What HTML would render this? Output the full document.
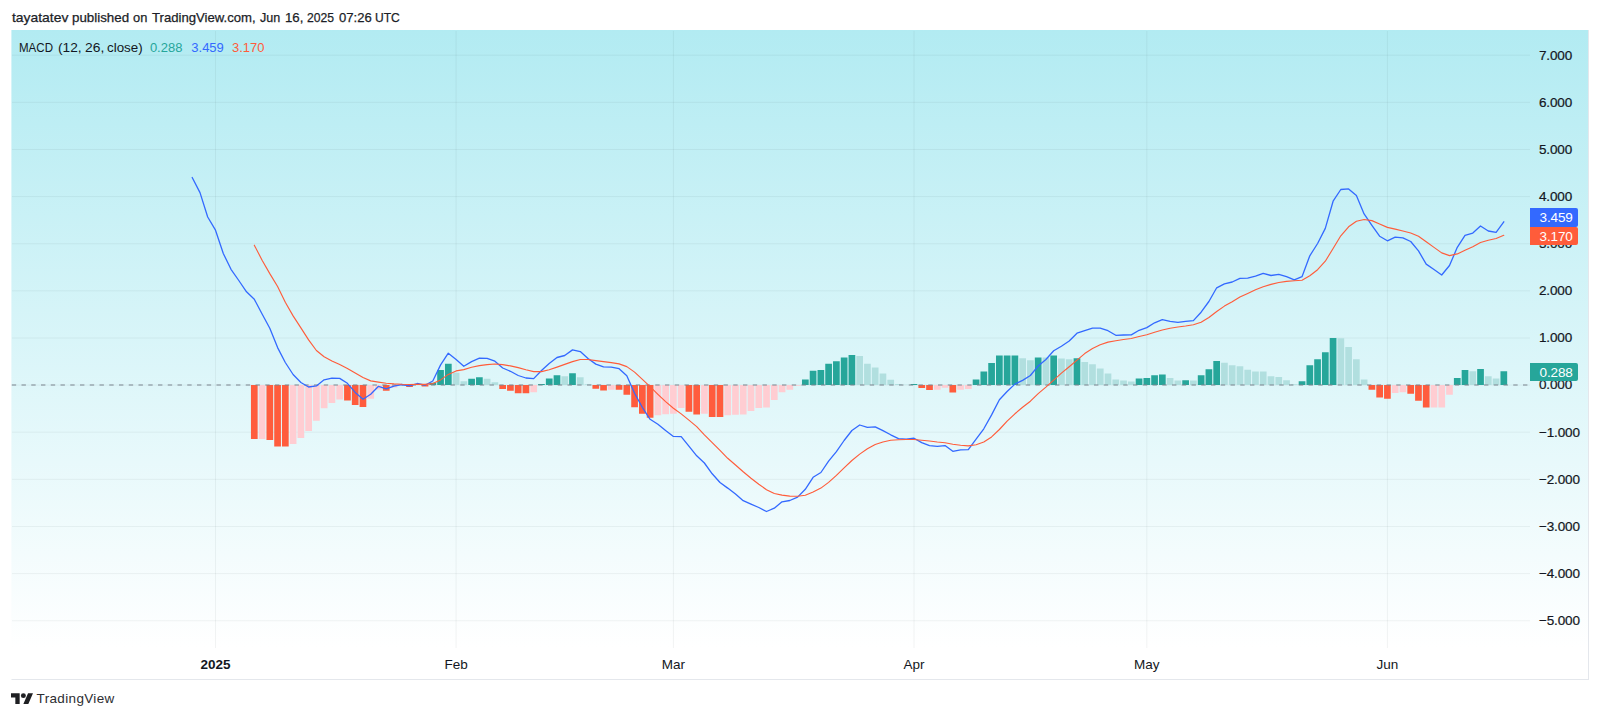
<!DOCTYPE html>
<html lang="en"><head><meta charset="utf-8"><title>MACD chart</title>
<style>
html,body{margin:0;padding:0;}
body{width:1600px;height:718px;background:#fff;position:relative;overflow:hidden;font-family:"Liberation Sans",Arial,sans-serif;color:#131722;}
.hdr{position:absolute;left:0;top:8.6px;font-size:13px;line-height:18px;white-space:nowrap;color:#1b1e27;-webkit-text-stroke:0.25px #1b1e27;}
.hdr span,.legend span{position:absolute;top:0;transform-origin:0 0;white-space:nowrap;}
.chart{position:absolute;left:11px;top:30px;width:1578px;height:650px;box-sizing:border-box;border:1px solid #e4e7ec;border-top:0 none;border-left:1px solid rgba(255,255,255,0.4);background:linear-gradient(to bottom,#b2ebf2 0px,#ffffff 618px,#ffffff 100%);}
.plot{position:absolute;left:0;top:0;}
.legend{position:absolute;left:0;top:38.5px;font-size:13px;line-height:18px;white-space:nowrap;}
.legend span{position:absolute;top:0;}
.pl{position:absolute;left:1539px;font-size:13.5px;letter-spacing:-0.15px;line-height:16px;height:16px;white-space:nowrap;color:#131722;-webkit-text-stroke:0.2px #131722;}
.tl{position:absolute;top:655.5px;width:60px;text-align:center;font-size:13.5px;line-height:18px;white-space:nowrap;color:#131722;}
.tl.b{font-weight:bold;}
.tag{position:absolute;left:1530px;width:48px;height:18.6px;border-radius:0 2px 2px 0;color:#fff;font-size:13.5px;letter-spacing:-0.15px;line-height:20.4px;text-indent:9.6px;overflow:hidden;white-space:nowrap;}
.foot{position:absolute;left:36.6px;top:689.5px;font-size:13.5px;letter-spacing:0.34px;line-height:18px;color:#2c2d31;white-space:nowrap;}
.logo{position:absolute;left:11.4px;top:690.5px;}
</style></head><body>
<div class="hdr"><span style="left:11.63px;transform:scaleX(1.0679)">tayatatev</span> <span style="left:71.93px;transform:scaleX(1.0267)">published</span> <span style="left:133.01px;transform:scaleX(0.9887)">on</span> <span style="left:152.05px;transform:scaleX(1.0094)">TradingView.com,</span> <span style="left:260.36px;transform:scaleX(0.965)">Jun</span> <span style="left:284.68px;transform:scaleX(1.0188)">16,</span> <span style="left:307.33px;transform:scaleX(0.9357)">2025</span> <span style="left:338.7px;transform:scaleX(1.0063)">07:26</span> <span style="left:375.47px;transform:scaleX(0.928)">UTC</span></div>
<div class="chart"></div>
<svg class="plot" width="1600" height="718" viewBox="0 0 1600 718"><path d="M12 620.75H1530M12 573.62H1530M12 526.49H1530M12 479.36H1530M12 432.23H1530M12 385.10H1530M12 337.97H1530M12 290.84H1530M12 243.71H1530M12 196.58H1530M12 149.45H1530M12 102.32H1530M12 55.19H1530M215.50 31V648M456.09 31V648M673.40 31V648M913.99 31V648M1146.82 31V648M1387.41 31V648" stroke="rgba(42,46,57,0.06)" stroke-width="1" fill="none"/><path d="M250.95 385.00h6.7v54.10h-6.7zM266.47 385.00h6.7v55.00h-6.7zM274.23 385.00h6.7v61.40h-6.7zM281.99 385.00h6.7v61.45h-6.7zM344.08 385.00h6.7v15.50h-6.7zM351.84 385.00h6.7v20.00h-6.7zM359.60 385.00h6.7v21.90h-6.7zM382.89 385.00h6.7v5.80h-6.7zM406.17 385.00h6.7v2.00h-6.7zM421.69 385.00h6.7v1.40h-6.7zM499.30 385.00h6.7v4.00h-6.7zM507.06 385.00h6.7v5.80h-6.7zM514.82 385.00h6.7v8.30h-6.7zM522.58 385.00h6.7v8.35h-6.7zM592.43 385.00h6.7v3.80h-6.7zM600.20 385.00h6.7v5.60h-6.7zM615.72 385.00h6.7v4.85h-6.7zM623.48 385.00h6.7v9.75h-6.7zM631.24 385.00h6.7v22.30h-6.7zM639.00 385.00h6.7v28.80h-6.7zM646.76 385.00h6.7v32.80h-6.7zM685.57 385.00h6.7v26.80h-6.7zM693.33 385.00h6.7v29.50h-6.7zM708.85 385.00h6.7v32.00h-6.7zM716.61 385.00h6.7v32.05h-6.7zM918.40 385.00h6.7v2.90h-6.7zM926.16 385.00h6.7v5.00h-6.7zM949.44 385.00h6.7v7.50h-6.7zM1368.53 385.00h6.7v4.80h-6.7zM1376.30 385.00h6.7v12.60h-6.7zM1384.06 385.00h6.7v13.70h-6.7zM1407.34 385.00h6.7v8.80h-6.7zM1415.10 385.00h6.7v15.80h-6.7zM1422.86 385.00h6.7v22.50h-6.7z" fill="#FF5C3D"/><path d="M258.71 385.00h6.7v54.00h-6.7zM289.75 385.00h6.7v58.90h-6.7zM297.52 385.00h6.7v53.10h-6.7zM305.28 385.00h6.7v46.10h-6.7zM313.04 385.00h6.7v35.80h-6.7zM320.80 385.00h6.7v23.30h-6.7zM328.56 385.00h6.7v18.10h-6.7zM336.32 385.00h6.7v14.50h-6.7zM367.37 385.00h6.7v13.70h-6.7zM375.13 385.00h6.7v4.50h-6.7zM390.65 385.00h6.7v2.50h-6.7zM398.41 385.00h6.7v0.40h-6.7zM530.35 385.00h6.7v7.30h-6.7zM607.96 385.00h6.7v4.80h-6.7zM654.52 385.00h6.7v30.30h-6.7zM662.28 385.00h6.7v29.30h-6.7zM670.04 385.00h6.7v28.80h-6.7zM677.80 385.00h6.7v23.10h-6.7zM701.09 385.00h6.7v28.80h-6.7zM724.37 385.00h6.7v30.30h-6.7zM732.13 385.00h6.7v29.80h-6.7zM739.89 385.00h6.7v29.60h-6.7zM747.65 385.00h6.7v26.00h-6.7zM755.42 385.00h6.7v23.10h-6.7zM763.18 385.00h6.7v22.50h-6.7zM770.94 385.00h6.7v15.10h-6.7zM778.70 385.00h6.7v7.30h-6.7zM786.46 385.00h6.7v4.80h-6.7zM794.22 385.00h6.7v0.80h-6.7zM933.92 385.00h6.7v4.80h-6.7zM941.68 385.00h6.7v2.80h-6.7zM957.20 385.00h6.7v4.80h-6.7zM964.96 385.00h6.7v4.00h-6.7zM1391.82 385.00h6.7v8.00h-6.7zM1399.58 385.00h6.7v7.30h-6.7zM1430.62 385.00h6.7v22.45h-6.7zM1438.38 385.00h6.7v22.40h-6.7zM1446.14 385.00h6.7v9.80h-6.7z" fill="#FFCDD2"/><path d="M429.45 382.80h6.7v2.20h-6.7zM437.21 370.00h6.7v15.00h-6.7zM444.98 363.70h6.7v21.30h-6.7zM468.26 378.80h6.7v6.20h-6.7zM476.02 377.30h6.7v7.70h-6.7zM538.11 383.90h6.7v1.10h-6.7zM545.87 378.50h6.7v6.50h-6.7zM553.63 375.30h6.7v9.70h-6.7zM569.15 373.30h6.7v11.70h-6.7zM801.98 379.50h6.7v5.50h-6.7zM809.74 370.80h6.7v14.20h-6.7zM817.50 370.00h6.7v15.00h-6.7zM825.26 363.70h6.7v21.30h-6.7zM833.02 361.20h6.7v23.80h-6.7zM840.79 357.40h6.7v27.60h-6.7zM848.55 355.00h6.7v30.00h-6.7zM910.64 384.00h6.7v1.00h-6.7zM972.72 379.50h6.7v5.50h-6.7zM980.48 371.50h6.7v13.50h-6.7zM988.25 363.00h6.7v22.00h-6.7zM996.01 355.50h6.7v29.50h-6.7zM1003.77 355.45h6.7v29.55h-6.7zM1011.53 355.40h6.7v29.60h-6.7zM1034.81 357.40h6.7v27.60h-6.7zM1050.33 355.50h6.7v29.50h-6.7zM1073.62 358.30h6.7v26.70h-6.7zM1135.70 378.60h6.7v6.40h-6.7zM1143.47 377.90h6.7v7.10h-6.7zM1151.23 375.20h6.7v9.80h-6.7zM1158.99 374.40h6.7v10.60h-6.7zM1182.27 380.35h6.7v4.65h-6.7zM1197.79 375.20h6.7v9.80h-6.7zM1205.55 369.20h6.7v15.80h-6.7zM1213.31 361.00h6.7v24.00h-6.7zM1298.69 381.30h6.7v3.70h-6.7zM1306.45 365.30h6.7v19.70h-6.7zM1314.21 359.20h6.7v25.80h-6.7zM1321.97 352.20h6.7v32.80h-6.7zM1329.73 338.00h6.7v47.00h-6.7zM1453.90 378.00h6.7v7.00h-6.7zM1461.67 370.00h6.7v15.00h-6.7zM1477.19 369.00h6.7v16.00h-6.7zM1500.47 371.30h6.7v13.70h-6.7z" fill="#26A69A"/><path d="M413.93 384.70h6.7v0.40h-6.7zM452.74 372.80h6.7v12.20h-6.7zM460.50 381.30h6.7v3.70h-6.7zM483.78 378.80h6.7v6.20h-6.7zM491.54 382.30h6.7v2.70h-6.7zM561.39 376.30h6.7v8.70h-6.7zM576.91 377.30h6.7v7.70h-6.7zM584.67 384.30h6.7v0.70h-6.7zM856.31 356.00h6.7v29.00h-6.7zM864.07 363.70h6.7v21.30h-6.7zM871.83 367.50h6.7v17.50h-6.7zM879.59 373.50h6.7v11.50h-6.7zM887.35 379.80h6.7v5.20h-6.7zM895.11 384.00h6.7v1.00h-6.7zM902.87 384.70h6.7v0.40h-6.7zM1019.29 358.20h6.7v26.80h-6.7zM1027.05 360.20h6.7v24.80h-6.7zM1042.57 357.50h6.7v27.50h-6.7zM1058.09 358.50h6.7v26.50h-6.7zM1065.86 359.20h6.7v25.80h-6.7zM1081.38 362.10h6.7v22.90h-6.7zM1089.14 364.30h6.7v20.70h-6.7zM1096.90 368.40h6.7v16.60h-6.7zM1104.66 373.40h6.7v11.60h-6.7zM1112.42 379.60h6.7v5.40h-6.7zM1120.18 380.40h6.7v4.60h-6.7zM1127.94 381.40h6.7v3.60h-6.7zM1166.75 377.90h6.7v7.10h-6.7zM1174.51 380.40h6.7v4.60h-6.7zM1190.03 380.40h6.7v4.60h-6.7zM1221.08 362.70h6.7v22.30h-6.7zM1228.84 365.30h6.7v19.70h-6.7zM1236.60 366.30h6.7v18.70h-6.7zM1244.36 369.80h6.7v15.20h-6.7zM1252.12 371.50h6.7v13.50h-6.7zM1259.88 371.55h6.7v13.45h-6.7zM1267.64 376.30h6.7v8.70h-6.7zM1275.40 377.00h6.7v8.00h-6.7zM1283.16 380.30h6.7v4.70h-6.7zM1290.92 384.30h6.7v0.70h-6.7zM1337.49 338.20h6.7v46.80h-6.7zM1345.25 347.00h6.7v38.00h-6.7zM1353.01 359.20h6.7v25.80h-6.7zM1360.77 379.50h6.7v5.50h-6.7zM1469.43 371.20h6.7v13.80h-6.7zM1484.95 376.20h6.7v8.80h-6.7zM1492.71 378.50h6.7v6.50h-6.7z" fill="#B1DFDF"/><path d="M11.75 385.0H1530" stroke="#7a838d" stroke-width="1" stroke-dasharray="4.4 5.35" fill="none"/><polyline fill="none" stroke="#3369FF" stroke-width="1.3" stroke-linejoin="round" stroke-linecap="round" points="192.2,177.5 200.0,192.6 207.7,217.0 215.5,230.2 223.3,253.5 231.0,269.3 238.8,280.5 246.5,291.8 254.3,299.3 262.1,314.0 269.8,328.3 277.6,347.6 285.3,362.5 293.1,374.5 300.9,382.5 308.6,387.0 316.4,385.9 324.1,379.8 331.9,378.2 339.7,378.4 347.4,383.3 355.2,392.4 363.0,399.2 370.7,394.3 378.5,386.3 386.2,388.8 394.0,386.1 401.8,384.5 409.5,385.9 417.3,383.5 425.0,385.2 432.8,381.0 440.6,364.9 448.3,353.2 456.1,359.4 463.8,366.3 471.6,361.6 479.4,358.2 487.1,358.3 494.9,361.2 502.7,368.0 510.4,371.3 518.2,375.5 525.9,378.0 533.7,378.6 541.5,370.5 549.2,363.5 557.0,357.5 564.7,355.5 572.5,349.9 580.3,351.6 588.0,358.5 595.8,364.1 603.5,366.9 611.3,367.2 619.1,368.7 626.8,375.8 634.6,393.3 642.4,407.5 650.1,419.3 657.9,424.2 665.6,430.5 673.4,436.4 681.2,436.6 688.9,446.2 696.7,455.8 704.4,463.0 712.2,473.8 720.0,482.5 727.7,488.1 735.5,494.1 743.2,500.7 751.0,504.1 758.8,507.5 766.5,511.5 774.3,508.2 782.0,501.8 789.8,500.5 797.6,497.1 805.3,489.3 813.1,477.3 820.9,472.5 828.6,461.1 836.4,451.6 844.1,440.5 851.9,430.5 859.7,425.0 867.4,427.4 875.2,426.8 882.9,430.6 890.7,434.8 898.5,438.7 906.2,439.2 914.0,438.2 921.7,442.6 929.5,445.7 937.3,446.3 945.0,445.6 952.8,451.3 960.6,449.9 968.3,449.6 976.1,439.2 983.8,428.8 991.6,414.9 999.4,399.8 1007.1,391.5 1014.9,384.1 1022.6,380.4 1030.4,375.5 1038.2,365.9 1045.9,359.5 1053.7,350.8 1061.4,346.2 1069.2,341.0 1077.0,333.2 1084.7,330.6 1092.5,328.1 1100.2,328.2 1108.0,330.7 1115.8,335.3 1123.5,335.0 1131.3,334.9 1139.1,330.3 1146.8,327.6 1154.6,322.8 1162.3,319.7 1170.1,321.3 1177.9,322.3 1185.6,321.4 1193.4,320.6 1201.1,312.2 1208.9,301.5 1216.7,287.8 1224.4,283.8 1232.2,282.0 1239.9,278.3 1247.7,278.2 1255.5,276.2 1263.2,273.3 1271.0,275.5 1278.8,274.4 1286.5,276.7 1294.3,279.9 1302.0,276.7 1309.8,255.8 1317.6,243.5 1325.3,228.4 1333.1,201.2 1340.8,189.5 1348.6,188.9 1356.4,195.6 1364.1,213.9 1371.9,225.3 1379.6,236.2 1387.4,240.8 1395.2,237.2 1402.9,237.8 1410.7,241.5 1418.5,250.9 1426.2,264.1 1434.0,269.5 1441.7,275.0 1449.5,265.5 1457.3,247.3 1465.0,235.3 1472.8,233.1 1480.5,226.0 1488.3,231.0 1496.1,232.3 1503.8,221.8"/><polyline fill="none" stroke="#FF5C3A" stroke-width="1.15" stroke-linejoin="round" stroke-linecap="round" points="254.3,245.2 262.1,260.2 269.8,273.6 277.6,286.5 285.3,302.3 293.1,315.9 300.9,327.9 308.6,339.9 316.4,350.5 324.1,356.7 331.9,360.9 339.7,364.6 347.4,368.5 355.2,373.1 363.0,377.5 370.7,380.9 378.5,382.1 386.2,383.3 394.0,383.9 401.8,384.3 409.5,384.5 417.3,384.3 425.0,384.4 432.8,383.6 440.6,379.9 448.3,374.4 456.1,370.9 463.8,369.6 471.6,367.3 479.4,365.6 487.1,364.6 494.9,364.0 502.7,364.6 510.4,365.9 518.2,367.6 525.9,369.8 533.7,371.6 541.5,371.6 549.2,369.8 557.0,367.1 564.7,364.4 572.5,361.6 580.3,359.5 588.0,359.5 595.8,360.6 603.5,361.6 611.3,362.6 619.1,363.9 626.8,366.6 634.6,372.1 642.4,379.3 650.1,386.7 657.9,394.3 665.6,401.6 673.4,408.2 681.2,413.9 688.9,420.1 696.7,426.6 704.4,434.9 712.2,442.7 720.0,450.4 727.7,458.3 735.5,465.0 743.2,471.8 751.0,478.2 758.8,484.2 766.5,489.7 774.3,493.5 782.0,495.1 789.8,496.1 797.6,496.3 805.3,495.2 813.1,492.0 820.9,488.1 828.6,482.4 836.4,475.4 844.1,467.9 851.9,460.5 859.7,454.1 867.4,448.7 875.2,444.5 882.9,442.0 890.7,440.3 898.5,439.7 906.2,439.5 914.0,439.5 921.7,440.3 929.5,441.0 937.3,442.0 945.0,442.7 952.8,444.2 960.6,445.3 968.3,445.9 976.1,444.8 983.8,442.0 991.6,436.9 999.4,429.5 1007.1,421.1 1014.9,413.8 1022.6,407.3 1030.4,401.2 1038.2,393.6 1045.9,387.1 1053.7,380.1 1061.4,373.1 1069.2,366.7 1077.0,360.1 1084.7,353.6 1092.5,348.6 1100.2,344.8 1108.0,342.1 1115.8,340.8 1123.5,339.5 1131.3,338.5 1139.1,336.5 1146.8,334.8 1154.6,332.2 1162.3,330.0 1170.1,328.2 1177.9,327.0 1185.6,326.0 1193.4,324.8 1201.1,322.2 1208.9,317.5 1216.7,311.5 1224.4,306.1 1232.2,301.7 1239.9,297.1 1247.7,293.4 1255.5,289.7 1263.2,286.7 1271.0,284.4 1278.8,282.5 1286.5,281.4 1294.3,280.8 1302.0,280.2 1309.8,275.7 1317.6,269.7 1325.3,261.2 1333.1,248.5 1340.8,235.8 1348.6,226.8 1356.4,221.2 1364.1,219.5 1371.9,220.6 1379.6,224.0 1387.4,227.4 1395.2,229.1 1402.9,231.0 1410.7,233.0 1418.5,236.2 1426.2,241.8 1434.0,247.4 1441.7,252.9 1449.5,255.6 1457.3,253.9 1465.0,250.2 1472.8,246.7 1480.5,242.5 1488.3,240.3 1496.1,238.5 1503.8,235.3"/></svg>
<div class="legend"><span style="left:19.11px;transform:scaleX(0.8871)">MACD</span> <span style="left:57.81px;transform:scaleX(1.0537)">(12,</span> <span style="left:84.67px;transform:scaleX(1.0667)">26,</span> <span style="left:107.29px;transform:scaleX(1.0269)">close)</span><span style="left:149.9px;color:#26a69a">0.288</span><span style="left:191.3px;color:#3369FF">3.459</span><span style="left:232.0px;color:#FF5C3A">3.170</span></div>
<div class="pl" style="top:47.5px">7.000</div><div class="pl" style="top:94.6px">6.000</div><div class="pl" style="top:141.8px">5.000</div><div class="pl" style="top:188.9px">4.000</div><div class="pl" style="top:236.0px">3.000</div><div class="pl" style="top:283.1px">2.000</div><div class="pl" style="top:330.3px">1.000</div><div class="pl" style="top:377.4px">0.000</div><div class="pl" style="top:424.5px">−1.000</div><div class="pl" style="top:471.7px">−2.000</div><div class="pl" style="top:518.8px">−3.000</div><div class="pl" style="top:565.9px">−4.000</div><div class="pl" style="top:613.0px">−5.000</div>
<div class="tag" style="top:208.2px;background:#3369FF">3.459</div>
<div class="tag" style="top:226.8px;background:#FF5C3A">3.170</div>
<div class="tag" style="top:362.6px;height:18.4px;background:#26a69a">0.288</div>
<div class="tl b" style="left:185.5px">2025</div><div class="tl" style="left:426.1px">Feb</div><div class="tl" style="left:643.4px">Mar</div><div class="tl" style="left:884.0px">Apr</div><div class="tl" style="left:1116.8px">May</div><div class="tl" style="left:1357.4px">Jun</div>
<svg class="logo" width="22.3" height="16.6" viewBox="0 0 36 28" preserveAspectRatio="none"><path fill="#1f2023" d="M14 22H7V11H0V4h14v18zM28 22h-8l7.5-18h8L28 22z"/><circle fill="#1f2023" cx="20" cy="8" r="4"/></svg>
<div class="foot">TradingView</div>
</body></html>
